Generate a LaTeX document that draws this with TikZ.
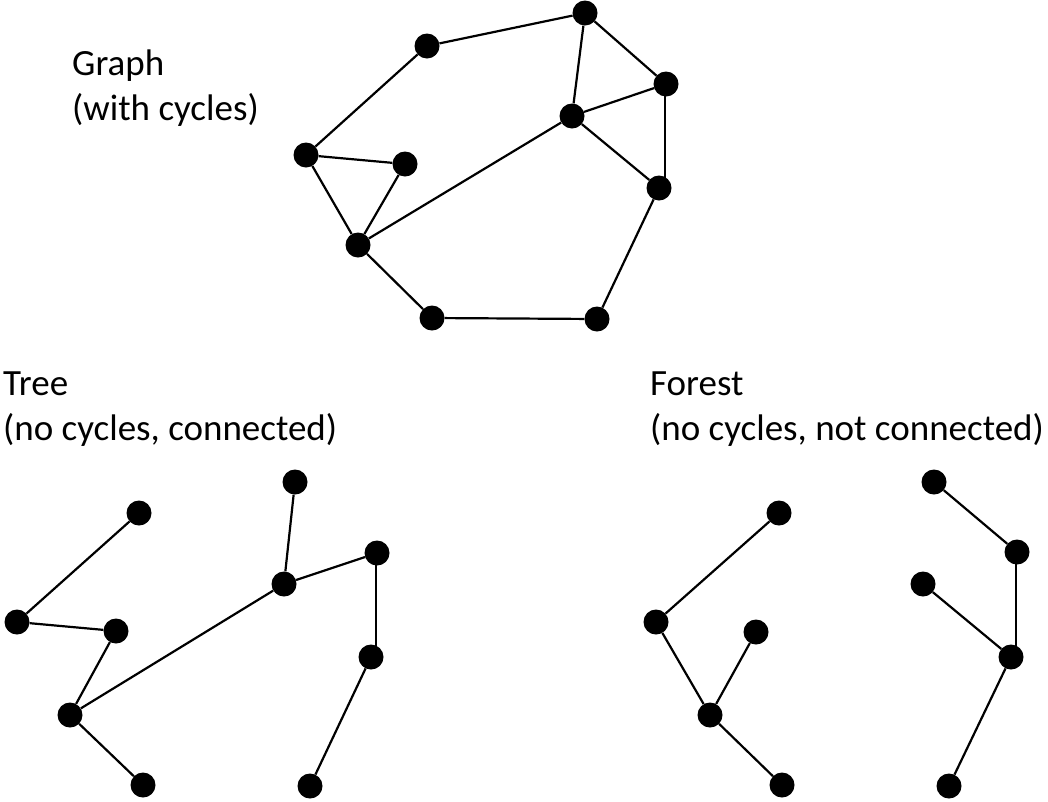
\documentclass[tikz,border=0pt]{standalone}
\usepackage{fontspec}
\setmainfont{Carlito}
\begin{document}
\begin{tikzpicture}[x=1pt,y=-1pt,
  dot/.style={circle,fill=black,inner sep=0pt,minimum size=25pt},
  edge/.style={line width=2.2pt,black},
  lbl/.style={anchor=north west,inner sep=0pt,align=left,font=\fontsize{37}{45}\selectfont}]
\useasboundingbox (0,0) rectangle (1048,801);
% labels
\node[lbl] (lg) at (72,50) {Graph\\(with cycles)};
\node[lbl] (lt) at (3,372) {Tree\\(no cycles, connected)};
\node[lbl] (lf) at (650,372) {Forest\\(no cycles, not connected)};
% graph
\node[dot] (g1) at (427,46) {};
\node[dot] (g2) at (585,13) {};
\node[dot] (g3) at (666,84) {};
\node[dot] (g4) at (572,116) {};
\node[dot] (g5) at (306,155) {};
\node[dot] (g6) at (405,164) {};
\node[dot] (g7) at (659,188) {};
\node[dot] (g8) at (358,245) {};
\node[dot] (g9) at (432,318) {};
\node[dot] (g10) at (597,319) {};
\draw[edge] (g1)--(g2) (g1)--(g5) (g2)--(g4) (g2)--(g3) (g3)--(g4)
  (g4)--(g7) (g4)--(g8) (g5)--(g6) (g5)--(g8) (g6)--(g8) (g8)--(g9) (g9)--(g10) (g10)--(g7);
\draw[edge] ([xshift=-1pt]g3.center) -- ([xshift=-1pt]g3.center |- g7.center);
% tree
\node[dot] (t1) at (139,513) {};
\node[dot] (t2) at (295,482) {};
\node[dot] (t3) at (377,553) {};
\node[dot] (t4) at (284,584) {};
\node[dot] (t5) at (17,622) {};
\node[dot] (t6) at (116,631) {};
\node[dot] (t7) at (371,657) {};
\node[dot] (t8) at (70,715) {};
\node[dot] (t9) at (143,785) {};
\node[dot] (t10) at (310,786) {};
\draw[edge] (t1)--(t5) (t5)--(t6) (t6)--(t8) (t8)--(t9) (t8)--(t4) (t4)--(t2)
  (t4)--(t3) (t7)--(t10);
\draw[edge] ([xshift=-1pt]t3.center) -- ([xshift=-1pt]t3.center |- t7.center);
% forest
\node[dot] (f1) at (779,513) {};
\node[dot] (f2) at (934,482) {};
\node[dot] (f3) at (1017,552) {};
\node[dot] (f4) at (923,584) {};
\node[dot] (f5) at (656,622) {};
\node[dot] (f6) at (756,632) {};
\node[dot] (f7) at (1011,657) {};
\node[dot] (f8) at (710,715) {};
\node[dot] (f9) at (782,785) {};
\node[dot] (f10) at (949,786) {};
\draw[edge] (f1)--(f5) (f5)--(f8) (f6)--(f8) (f8)--(f9) (f2)--(f3)
  (f4)--(f7) (f7)--(f10);
\draw[edge] ([xshift=-1pt]f3.center) -- ([xshift=-1pt]f3.center |- f7.center);
\end{tikzpicture}
\end{document}
